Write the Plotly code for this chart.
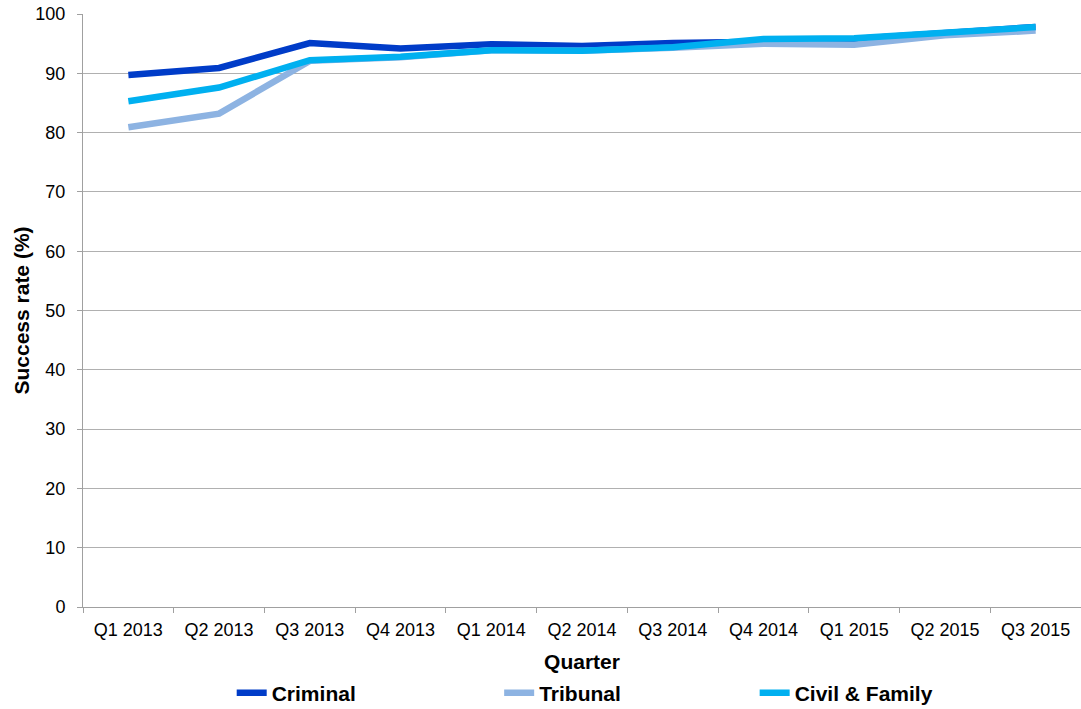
import plotly.graph_objects as go

quarters = ["Q1 2013", "Q2 2013", "Q3 2013", "Q4 2013", "Q1 2014", "Q2 2014",
            "Q3 2014", "Q4 2014", "Q1 2015", "Q2 2015", "Q3 2015"]
criminal = [89.7, 90.9, 95.1, 94.2, 94.9, 94.6, 95.1, 95.3, 95.8, 96.8, 97.8]
tribunal = [80.9, 83.2, 92.1, 92.7, 93.9, 93.8, 94.3, 95.0, 94.8, 96.4, 97.2]
civil_family = [85.3, 87.6, 92.2, 92.8, 93.9, 93.8, 94.4, 95.8, 95.9, 96.8, 97.8]
y_ticks = [0, 10, 20, 30, 40, 50, 60, 70, 80, 90, 100]

series = [
    ("Criminal", criminal, "#003CC8", "legend"),
    ("Tribunal", tribunal, "#8DB3E2", "legend2"),
    ("Civil & Family", civil_family, "#00B0F0", "legend3"),
]

font = "Liberation Sans, Arial, sans-serif"

fig = go.Figure()
for name, vals, col, lg in series:
    fig.add_trace(go.Scatter(x=quarters, y=vals, mode="lines", name=name,
                             line=dict(color=col, width=6.5), legend=lg))

leg_common = dict(orientation="h", y=-0.145, yanchor="middle", xanchor="left",
                  font=dict(size=21, family=font, color="#000000", weight="bold"),
                  bgcolor="rgba(0,0,0,0)", itemwidth=30)
fig.update_layout(
    width=1081, height=709,
    margin=dict(l=83, r=0, t=14, b=102, autoexpand=False),
    plot_bgcolor="white", paper_bgcolor="white",
    font=dict(family=font, size=18, color="#000000"),
    showlegend=True,
    legend=dict(x=0.149, **leg_common),
    legend2=dict(x=0.417, **leg_common),
    legend3=dict(x=0.673, **leg_common),
    xaxis=dict(
        title=dict(text="Quarter", font=dict(size=21, weight="bold"), standoff=15),
        type="category", range=[-0.5, 10.5], tickson="boundaries",
        ticks="outside", ticklen=5, ticklabelstandoff=6,
        tickcolor="#A0A0A0", showline=True, linecolor="#A0A0A0", linewidth=1,
        showgrid=False, tickfont=dict(size=18), automargin=False,
    ),
    yaxis=dict(
        title=dict(text="Success rate (%)", font=dict(size=21, weight="bold"), standoff=0),
        range=[0, 100], tickvals=y_ticks, ticks="outside", ticklen=5,
        ticklabelstandoff=8,
        tickcolor="#A0A0A0", showline=True, linecolor="#A0A0A0", linewidth=1,
        showgrid=True, gridcolor="#B0B0B0", gridwidth=1, zeroline=False,
        tickfont=dict(size=18), automargin=False,
    ),
)

fig.write_html("out.html", config={"displayModeBar": False},
               post_script="document.body.style.margin='0';document.body.style.overflow='hidden';")
